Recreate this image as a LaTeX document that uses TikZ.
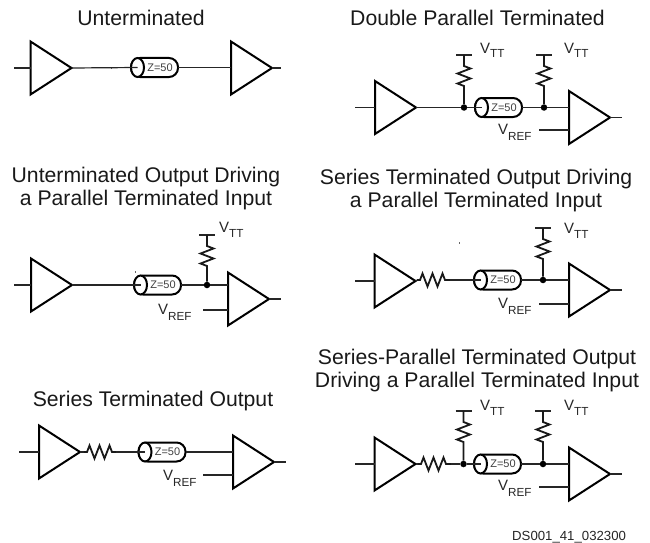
\documentclass[tikz,border=0pt]{standalone}
\usepackage{fontspec}
\setmainfont{Liberation Sans}
\usetikzlibrary{shapes.geometric,calc}
\tikzset{
  wire/.style={line width=1.2pt,black!85},
  buf/.style={isosceles triangle,isosceles triangle stretches,draw,line width=2pt,minimum height=41pt,minimum width=53pt,inner sep=0pt,outer sep=0pt,anchor=apex},
  coaxbody/.style={draw,line width=2pt,rounded corners=9pt,minimum width=47pt,minimum height=19pt,inner sep=0pt,outer sep=0pt,font=\fontsize{11}{11}\selectfont,text=black!75},
  coaxend/.style={draw,ellipse,line width=2pt,fill=white,minimum width=13pt,minimum height=19pt,inner sep=0pt,outer sep=0pt},
  junction/.style={circle,fill=black,inner sep=0pt,minimum size=6.5pt},
  res/.style={line width=1.8pt,line join=miter,black!90},
  title/.style={font=\fontsize{21.2}{23}\selectfont,align=center,anchor=base,inner sep=0pt,text=black!90},
  lab/.style={font=\fontsize{15}{15}\selectfont,anchor=base west,inner sep=0pt,text=black!85},
  speck/.style={fill=black!60,inner sep=0pt,minimum width=1pt,minimum height=2pt},
}
\newcommand{\labVTT}{V\raisebox{-5pt}{\fontsize{11.7}{12}\selectfont TT}}
\newcommand{\labVREF}{V\raisebox{-6pt}{\fontsize{11.7}{12}\selectfont REF}}
\newcommand{\coaxat}[3]{%
  \node[coaxbody,anchor=west] (#1) at (#2,#3) {\hspace{11pt}Z=50};
  \node[coaxend,anchor=west] (#1e) at (#2,#3) {};
  \coordinate (#1in) at (#1e.center);
}
\newcommand{\vres}[2]{%
  \draw[res] (#1) -- ++(0,11) -- ++(6.5,2.5) -- ++(-13,5) -- ++(13,5) -- ++(-13,5) -- ++(6.5,2.5) -- (#2);
}
\newcommand{\hres}[2]{%
  \draw[res] (#1) -- ++(3,0) -- ++(2.5,-6.5) -- ++(5,13) -- ++(5,-13) -- ++(5,13) -- ++(5,-13) -- ++(2.5,6.5) -- (#2);
}
\newcommand{\vttbar}[3]{%
  \coordinate (#1) at (#2,#3);
  \draw[wire] ($(#1)+(-8,0)$) -- ($(#1)+(8,0)$);
}
\begin{document}
\begin{tikzpicture}[x=1pt,y=-1pt]
\useasboundingbox (0,0) rectangle (650,543);
% titles
\node[title] (t1) at (141,26) {Unterminated};
\node[title] (t2) at (477.5,26) {Double Parallel Terminated};
\node[title] (t3) at (146,205) {Unterminated Output Driving\\a Parallel Terminated Input};
\node[title] (t4) at (476,207) {Series Terminated Output Driving\\a Parallel Terminated Input};
\node[title] (t5) at (153,406) {Series Terminated Output};
\node[title] (t6) at (477,387) {Series-Parallel Terminated Output\\Driving a Parallel Terminated Input};
\node[font=\fontsize{13.2}{14}\selectfont,anchor=base west,inner sep=0pt,text=black!85] (ds) at (512,540.3) {DS001\_41\_032300};
\node[speck] (s1) at (111,68) {};
\node[speck] (s2) at (135,272) {};
\node[speck] (s3) at (459,243) {};

% ---- panel 1
\coordinate (p1i) at (14,68);
\node[buf] (p1a) at (71.5,68) {};
\coaxat{p1c}{131}{67.5}
\node[buf] (p1b) at (272,68) {};
\coordinate (p1o) at (281,68);
\draw[wire] (p1i) -- (p1a.lower side |- p1i);
\draw[wire] (p1a.apex) -- (p1cin);
\draw[wire] (p1c.east) -- (p1b.lower side |- p1c.east);
\draw[wire] (p1b.apex) -- (p1o);

% ---- panel 2
\coordinate (p2i) at (355,107.5);
\node[buf] (p2a) at (416,107.5) {};
\node[junction] (p2j) at (464,107.5) {};
\coaxat{p2c}{475}{107.5}
\node[junction] (p2k) at (544,107.5) {};
\node[buf] (p2b) at (610,117.5) {};
\coordinate (p2o) at (622,117.5);
\coordinate (p2r) at (539,130);
\draw[wire] (p2i) -- (p2a.lower side |- p2i);
\draw[wire] (p2a.apex) -- (p2j) -- (p2cin);
\draw[wire] (p2c.east) -- (p2k) -- (p2b.lower side |- p2k);
\draw[wire] (p2b.apex) -- (p2o);
\draw[wire] (p2r) -- (p2b.lower side |- p2r);
\vttbar{p2v}{464}{55}
\vttbar{p2w}{544}{55}
\vres{p2v}{p2j}
\vres{p2w}{p2k}
\node[lab] (p2l) at (480,53) {\labVTT};
\node[lab] (p2m) at (564,53) {\labVTT};
\node[lab] (p2n) at (498,134) {\labVREF};

% ---- panel 3
\coordinate (p3i) at (14,285);
\node[buf] (p3a) at (72,285) {};
\coaxat{p3c}{134}{285}
\node[junction] (p3j) at (207,285) {};
\node[buf] (p3b) at (269,299) {};
\coordinate (p3o) at (281,299);
\coordinate (p3r) at (203,310);
\draw[wire] (p3i) -- (p3a.lower side |- p3i);
\draw[wire] (p3a.apex) -- (p3cin);
\draw[wire] (p3c.east) -- (p3j) -- (p3b.lower side |- p3j);
\draw[wire] (p3b.apex) -- (p3o);
\draw[wire] (p3r) -- (p3b.lower side |- p3r);
\vttbar{p3v}{207}{235}
\vres{p3v}{p3j}
\node[lab] (p3l) at (219,232) {\labVTT};
\node[lab] (p3n) at (158,314) {\labVREF};

% ---- panel 4
\coordinate (p4i) at (355,281);
\node[buf] (p4a) at (415.5,281) {};
\coordinate (p4s) at (417,280);
\coordinate (p4t) at (450,280);
\node[junction] (p4j) at (543,280) {};
\coaxat{p4c}{474}{280}
\node[buf] (p4b) at (610,290) {};
\coordinate (p4o) at (622,290);
\coordinate (p4r) at (539,304);
\draw[wire] (p4i) -- (p4a.lower side |- p4i);
\draw[wire] (p4a.apex) -- (p4s);
\hres{p4s}{p4t}
\draw[wire] (p4t) -- (p4cin);
\draw[wire] (p4c.east) -- (p4j) -- (p4b.lower side |- p4j);
\draw[wire] (p4b.apex) -- (p4o);
\draw[wire] (p4r) -- (p4b.lower side |- p4r);
\vttbar{p4v}{543}{228}
\vres{p4v}{p4j}
\node[lab] (p4l) at (564,233) {\labVTT};
\node[lab] (p4n) at (498,308) {\labVREF};

% ---- panel 5
\coordinate (p5i) at (19,452);
\node[buf] (p5a) at (80,452) {};
\coordinate (p5s) at (84,452);
\coordinate (p5t) at (116,452);
\coaxat{p5c}{138.5}{452}
\node[buf] (p5b) at (274,462) {};
\coordinate (p5o) at (286,462);
\coordinate (p5r) at (203,475);
\draw[wire] (p5i) -- (p5a.lower side |- p5i);
\draw[wire] (p5a.apex) -- (p5s);
\hres{p5s}{p5t}
\draw[wire] (p5t) -- (p5cin);
\draw[wire] (p5c.east) -- (p5b.lower side |- p5c.east);
\draw[wire] (p5b.apex) -- (p5o);
\draw[wire] (p5r) -- (p5b.lower side |- p5r);
\node[lab] (p5n) at (163,480) {\labVREF};

% ---- panel 6
\coordinate (p6i) at (355,464);
\node[buf] (p6a) at (415.5,464) {};
\coordinate (p6s) at (418,464);
\coordinate (p6t) at (451,464);
\node[junction] (p6j) at (463.5,464) {};
\coaxat{p6c}{474}{464}
\node[junction] (p6k) at (543,464) {};
\node[buf] (p6b) at (610,474) {};
\coordinate (p6o) at (622,474);
\coordinate (p6r) at (539,487);
\draw[wire] (p6i) -- (p6a.lower side |- p6i);
\draw[wire] (p6a.apex) -- (p6s);
\hres{p6s}{p6t}
\draw[wire] (p6t) -- (p6j) -- (p6cin);
\draw[wire] (p6c.east) -- (p6k) -- (p6b.lower side |- p6k);
\draw[wire] (p6b.apex) -- (p6o);
\draw[wire] (p6r) -- (p6b.lower side |- p6r);
\vttbar{p6v}{463.5}{411}
\vttbar{p6w}{543}{411}
\vres{p6v}{p6j}
\vres{p6w}{p6k}
\node[lab] (p6l) at (480,410) {\labVTT};
\node[lab] (p6m) at (564,410) {\labVTT};
\node[lab] (p6n) at (498,490) {\labVREF};
\end{tikzpicture}
\end{document}
